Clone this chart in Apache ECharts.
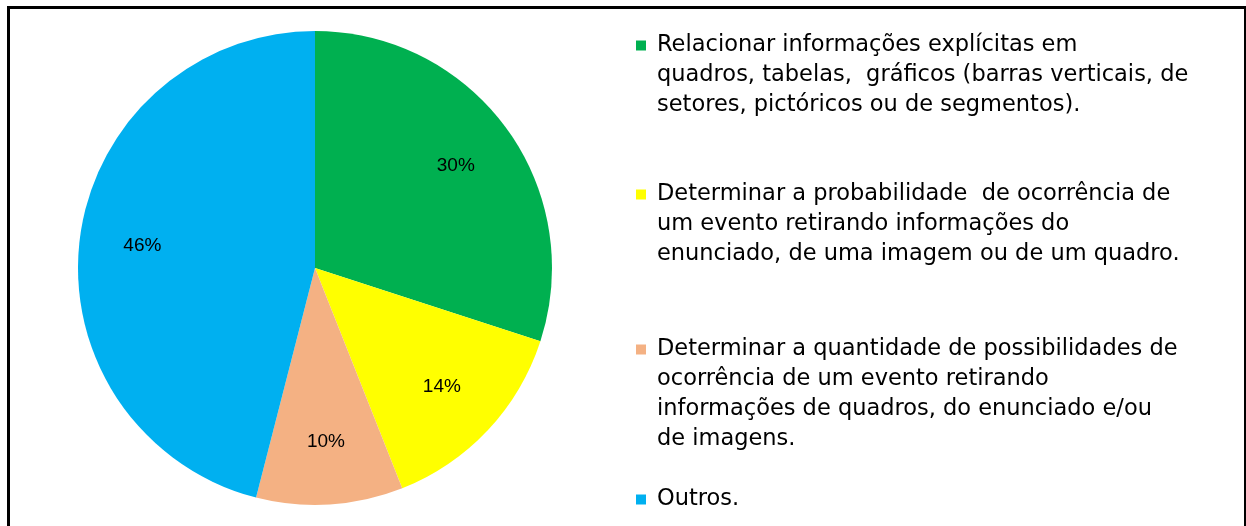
<!DOCTYPE html>
<html>
<head>
<meta charset="utf-8">
<script src="https://cdn.jsdelivr.net/npm/echarts@6/dist/echarts.min.js"></script>
<style>
  html, body { margin: 0; padding: 0; background: #fff; }
  #chart { position: absolute; left: 0; top: 0; width: 1246px; height: 526px; }
  #frame {
    position: absolute; left: 7px; top: 6px; width: 1234px; height: 530px;
    border-top: 3px solid #000; border-left: 3px solid #000; border-right: 2px solid #000;
    pointer-events: none;
  }
</style>
</head>
<body>
<div id="chart"></div>
<div id="frame"></div>
<script>
// categories (descritores) and shares in %
const categories = [
  'Relacionar informações explícitas em quadros, tabelas, gráficos (barras verticais, de setores, pictóricos ou de segmentos).',
  'Determinar a probabilidade  de ocorrência de um evento retirando informações do enunciado, de uma imagem ou de um quadro.',
  'Determinar a quantidade de possibilidades de ocorrência de um evento retirando informações de quadros, do enunciado e/ou de imagens.',
  'Outros.'
]
const values = [30, 14, 10, 46]
// how each legend text is broken into lines
const legendLines = [
  ['Relacionar informações explícitas em', 'quadros, tabelas,  gráficos (barras verticais, de', 'setores, pictóricos ou de segmentos).'],
  ['Determinar a probabilidade  de ocorrência de', 'um evento retirando informações do', 'enunciado, de uma imagem ou de um quadro.'],
  ['Determinar a quantidade de possibilidades de', 'ocorrência de um evento retirando', 'informações de quadros, do enunciado e/ou', 'de imagens.'],
  ['Outros.']
]

const colors = ['#00B050', '#FFFF00', '#F4B183', '#00B0F0']
const legendTops = [34, 183, 338, 488]

const chart = echarts.init(document.getElementById('chart'))

let legends = categories.map((name, i) => {
  return {
    data: [name],
    left: 631,
    top: legendTops[i],
    padding: 0,
    orient: 'vertical',
    selectedMode: false,
    icon: 'none',
    itemWidth: 0,
    itemHeight: 10,
    formatter: () => {
      return legendLines[i].map((line, j) => {
        return (j === 0 ? '{sq| }{gap| }' : '{pad| }') + '{t|' + line + '}'
      }).join('\n')
    },
    textStyle: {
      rich: {
        sq: { width: 10, height: 10, backgroundColor: colors[i] },
        gap: { width: 11 },
        pad: { width: 21 },
        t: {
          fontFamily: 'DejaVu Sans',
          fontSize: 22.5,
          color: '#000',
          lineHeight: 30
        }
      }
    }
  }
})

const pieData = categories.map((name, i) => ({ name: name, value: values[i] }))

const options = {
  animation: false,
  color: colors,
  legend: legends,
  series: [
    {
      name: 'main',
      type: 'pie',
      center: [315, 268],
      radius: [0, 237],
      startAngle: 90,
      clockwise: true,
      silent: true,
      label: { show: false },
      labelLine: { show: false },
      itemStyle: { borderWidth: 0 },
      data: pieData
    },
    {
      name: 'labels',
      type: 'pie',
      center: [315, 268],
      radius: [105, 237],
      startAngle: 90,
      clockwise: true,
      silent: true,
      z: 5,
      itemStyle: { color: 'transparent', borderWidth: 0 },
      label: {
        show: true,
        position: 'inside',
        formatter: '{c}%',
        fontFamily: 'Liberation Sans',
        fontSize: 19,
        color: '#000'
      },
      labelLine: { show: false },
      data: pieData
    }
  ]
}
chart.setOption(options)
</script>
</body>
</html>
